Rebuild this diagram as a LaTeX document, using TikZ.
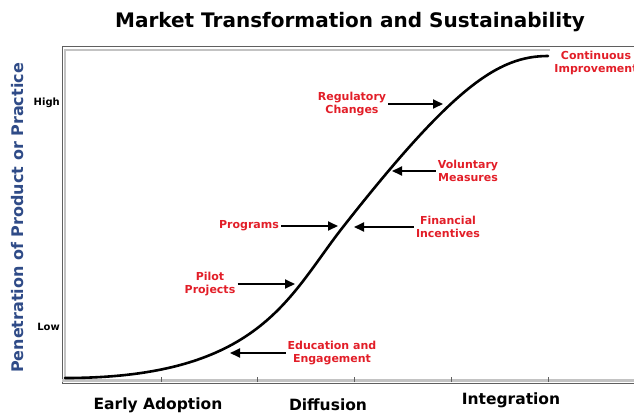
\documentclass[tikz,border=0pt]{standalone}
\usepackage{fontspec}
\setmainfont{DejaVu Sans}
\usepackage{tikz}
\usetikzlibrary{arrows.meta}
\definecolor{labelred}{RGB}{226,30,40}
\definecolor{axisblue}{RGB}{47,75,135}
\definecolor{framegray}{RGB}{95,95,95}
\definecolor{softgray}{RGB}{195,195,195}
\tikzset{
  lever/.style={font=\bfseries\fontsize{11}{12.5}\selectfont, text=labelred, align=center, inner sep=2pt},
  phase/.style={font=\bfseries\fontsize{15.5}{18}\selectfont},
  level/.style={font=\bfseries\fontsize{10}{11}\selectfont, anchor=east, inner sep=1pt},
  pointer/.style={draw=black, line width=1.8pt, -{Triangle[length=10pt,width=9pt]}},
}

\begin{document}
\begin{tikzpicture}[x=1pt,y=-1pt]
      \useasboundingbox (0,0) rectangle (634,413);

      % frame and axis
      \draw[framegray, line width=1pt] (62,383) -- (62,46) -- (640,46);
      \draw[softgray, line width=2pt] (65,380) -- (65,49.5) -- (550,49.5);
      \draw[softgray, line width=2.5pt] (62,380.5) -- (640,380.5);
      \draw[framegray, line width=0.8pt] (62,383) -- (640,383);
      \foreach \x in {161,257,354,451,548}
        \draw[framegray, line width=0.6pt] (\x,382) -- (\x,377);

      % S-curve
      \coordinate (CurveStart) at (65,378);
      \coordinate (CurveMid) at (343,227);
      \coordinate (CurveEnd) at (548,56);
      \draw[line width=2.6pt, line cap=round] (CurveStart) .. controls (260,378) and (288,297) .. (CurveMid)
                                                 .. controls (453,87) and (498,56) .. (CurveEnd);

      \node[font=\bfseries\fontsize{20}{24}\selectfont] (Title) at (350,22) {Market Transformation and Sustainability};
      \node[rotate=90, text=axisblue, font=\bfseries\fontsize{16}{19}\selectfont] (AxisY) at (18,218) {Penetration of Product or Practice};
      \node[level] (High) at (61,103) {High};
      \node[level] (Low) at (61,327) {Low};

      \node[phase] (Early) at (158,405) {Early Adoption};
      \node[phase] (Diff) at (328,405) {Diffusion};
      \node[phase] (Integ) at (511,400) {Integration};

      % levers along the curve
      \node[lever] (Reg) at (352,104) {Regulatory\\Changes};
      \node[lever] (Vol) at (468,171) {Voluntary\\Measures};
      \node[lever] (Prog) at (249,226) {Programs};
      \node[lever] (Fin) at (448,227) {Financial\\Incentives};
      \node[lever] (Pilot) at (210,284) {Pilot\\Projects};
      \node[lever] (Edu) at (332,353) {Education and\\Engagement};
      \node[lever] (Cont) at (596,63) {Continuous\\Improvement};

      \coordinate (RegTip) at (443,104);
      \coordinate (VolTip) at (392,171);
      \coordinate (ProgTip) at (338,226);
      \coordinate (FinTip) at (354,227);
      \coordinate (PilotTip) at (295,284);
      \coordinate (EduTip) at (230,353);

      \draw[pointer] (Reg) -- (RegTip);
      \draw[pointer] (Vol) -- (VolTip);
      \draw[pointer] (Prog) -- (ProgTip);
      \draw[pointer] (Fin) -- (FinTip);
      \draw[pointer] (Pilot) -- (PilotTip);
      \draw[pointer] (Edu) -- (EduTip);
\end{tikzpicture}
\end{document}
